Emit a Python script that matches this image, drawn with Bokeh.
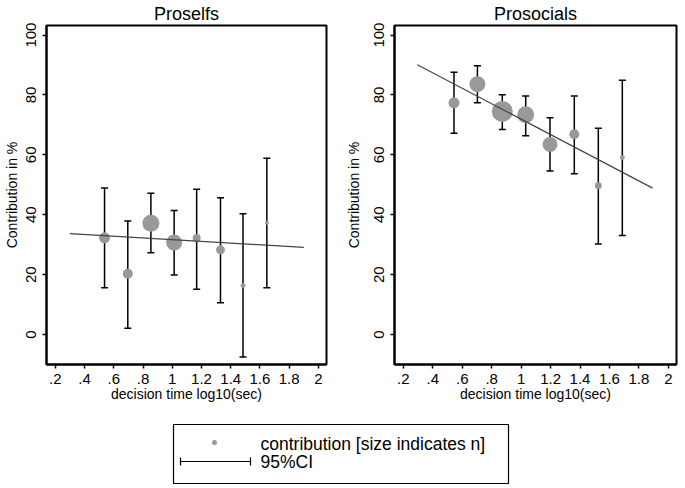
import numpy as np
from bokeh.plotting import figure
from bokeh.models import (ColumnDataSource, Whisker, TeeHead, FixedTicker, CustomJSTickFormatter,
                          Range1d, Title)
from bokeh.layouts import column, row
from bokeh.embed import file_html
from bokeh.resources import INLINE
from bokeh.core.properties import value

# ---------------- data ----------------
x_ticks = [0.2, 0.4, 0.6, 0.8, 1.0, 1.2, 1.4, 1.6, 1.8, 2.0]
y_ticks = [0, 20, 40, 60, 80, 100]

proself_x = [0.537, 0.696, 0.854, 1.013, 1.167, 1.330, 1.484, 1.647]
proself_y = [32.3, 20.3, 37.2, 30.7, 32.2, 28.3, 16.4, 37.3]
proself_lo = [15.6, 2.1, 27.3, 19.9, 15.1, 10.6, -7.5, 15.6]
proself_hi = [48.9, 37.9, 47.2, 41.4, 48.5, 45.7, 40.3, 58.9]
proself_n = [30, 25, 72, 64, 16, 20, 6, 4]
proself_fit_x = [0.30, 1.90]
proself_fit_y = [33.7, 29.1]

prosocial_x = [0.544, 0.703, 0.872, 1.031, 1.196, 1.361, 1.524, 1.687]
prosocial_y = [77.4, 83.6, 74.5, 73.4, 63.5, 66.9, 49.7, 59.1]
prosocial_lo = [67.2, 77.4, 68.5, 66.4, 54.6, 53.7, 30.2, 33.1]
prosocial_hi = [87.6, 89.8, 80.1, 79.7, 72.4, 79.7, 68.9, 84.9]
prosocial_n = [30, 64, 110, 72, 56, 25, 12, 6]
prosocial_fit_x = [0.295, 1.893]
prosocial_fit_y = [90.1, 48.9]

FONT = "Liberation Sans"
BUBBLE = "#999999"

xfmt_code = """
var s = tick.toFixed(1);
if (s.endsWith('.0')) s = s.slice(0, -2);
if (s.startsWith('0.')) s = s.slice(1);
return s;
"""


def panel(title, xs, ys, lo, hi, n, fx, fy, width, border_left, border_right, label_standoff):
    p = figure(width=width, height=405, output_backend="svg", toolbar_location=None,
               x_range=Range1d(0.14, 2.055), y_range=Range1d(-10, 103.2),
               min_border_left=border_left, min_border_right=border_right,
               min_border_top=25, min_border_bottom=41)
    p.title = Title(text=title, align="center", text_font=FONT, text_font_size="18px",
                    text_font_style="normal", text_color="black", standoff=3)
    p.background_fill_color = "white"
    p.border_fill_color = "white"
    p.outline_line_color = "black"
    p.outline_line_width = 2
    p.grid.visible = False

    src = ColumnDataSource(dict(x=xs, y=ys, lo=lo, hi=hi, n=n,
                                size=[2.0 * np.sqrt(v) for v in n]))
    p.scatter("x", "y", size="size", source=src, fill_color=BUBBLE, line_color=None,
              fill_alpha=1.0)
    p.line(fx, fy, line_color="#444444", line_width=1.2)
    w = Whisker(base="x", upper="hi", lower="lo", source=src, line_color="black",
                line_width=1.5,
                upper_head=TeeHead(size=7, line_color="black", line_width=1.5),
                lower_head=TeeHead(size=7, line_color="black", line_width=1.5))
    p.add_layout(w)

    # x axis
    xa = p.xaxis[0]
    xa.ticker = FixedTicker(ticks=x_ticks)
    xa.formatter = CustomJSTickFormatter(code=xfmt_code)
    xa.axis_label = "decision time log10(sec)"
    xa.axis_label_text_font = FONT
    xa.axis_label_text_font_size = "14px"
    xa.axis_label_text_font_style = "normal"
    xa.axis_label_standoff = -1
    xa.major_label_text_font = FONT
    xa.major_label_text_font_size = "15px"
    xa.major_label_standoff = 5
    xa.major_tick_out = 4
    xa.major_tick_in = 0
    xa.minor_tick_out = 0
    xa.minor_tick_in = 0
    xa.axis_line_color = "black"
    xa.axis_line_width = 2
    xa.major_tick_line_width = 1.5

    # y axis
    ya = p.yaxis[0]
    ya.ticker = FixedTicker(ticks=y_ticks)
    ya.axis_label = "Contribution in %"
    ya.axis_label_text_font = FONT
    ya.axis_label_text_font_size = "14px"
    ya.axis_label_text_font_style = "normal"
    ya.axis_label_standoff = label_standoff
    ya.major_label_text_font = FONT
    ya.major_label_text_font_size = "15px"
    ya.major_label_orientation = "vertical"
    ya.major_label_standoff = 6
    ya.major_tick_out = 4
    ya.major_tick_in = 0
    ya.minor_tick_out = 0
    ya.minor_tick_in = 0
    ya.axis_line_color = "black"
    ya.axis_line_width = 2
    ya.major_tick_line_width = 1.5
    for ax in (xa, ya):
        ax.major_label_text_color = "black"
        ax.axis_label_text_color = "black"
    return p


p1 = panel("Proselfs", proself_x, proself_y, proself_lo, proself_hi, proself_n,
           proself_fit_x, proself_fit_y, 340, 44, 14, 4)
p2 = panel("Prosocials", prosocial_x, prosocial_y, prosocial_lo, prosocial_hi, prosocial_n,
           prosocial_fit_x, prosocial_fit_y, 345, 54, 9, 10)

# ---------------- legend panel ----------------
leg = figure(width=685, height=83, output_backend="svg", toolbar_location=None,
             x_range=Range1d(0, 685), y_range=Range1d(83, 0),
             min_border=0, x_axis_type=None, y_axis_type=None)
leg.outline_line_color = None
leg.grid.visible = False
leg.quad(left=[173], right=[508], top=[19], bottom=[78], fill_color="white",
         line_color="black", line_width=1.2)
leg.scatter([214], [37], size=5, fill_color=BUBBLE, line_color=None)
leg.segment(x0=[180], y0=[56], x1=[250], y1=[56], line_color="black", line_width=1.2)
leg.segment(x0=[180, 250], y0=[52, 52], x1=[180, 250], y1=[60, 60], line_color="black",
            line_width=1.2)
leg.text([260, 260], [38, 56], text=["contribution [size indicates n]", "95%CI"],
         text_font=value(FONT), text_font_size="17.5px", text_baseline="middle",
         text_align="left", text_color="black")

layout = column(row(p1, p2, spacing=0), leg, spacing=0)

open("out.html", "w").write(file_html(layout, INLINE))
